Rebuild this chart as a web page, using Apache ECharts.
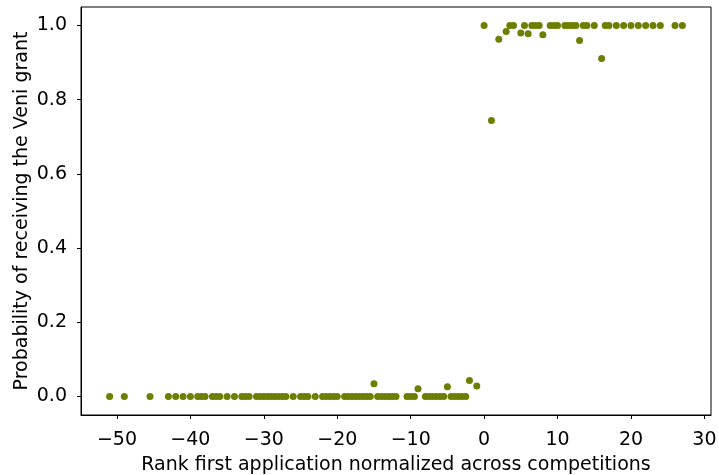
<!DOCTYPE html>
<html>
<head>
<meta charset="utf-8">
<script src="https://cdn.jsdelivr.net/npm/echarts@6/dist/echarts.min.js"></script>
<style>
  html, body { margin: 0; padding: 0; background: #fff; }
  #chart { width: 719px; height: 475px; }
</style>
</head>
<body>
<div id="chart"></div>
<script>
// Normalized rank of the first application (x) and estimated probability of a grant (y)
const rankLow = [
  -51, -49, -45.5, -43, -42, -41, -40,
  -39, -38.5, -38,
  -37, -36.5, -36,
  -35, -34,
  -33, -32.5, -32,
  -31, -30.5, -30, -29.5, -29, -28.5, -28, -27.5, -27,
  -26,
  -25, -24.5, -24,
  -23,
  -22, -21.5, -21, -20.5, -20,
  -19, -18.5, -18, -17.5, -17, -16.5, -16, -15.5,
  -14.5, -14, -13.5, -13, -12.5, -12,
  -10.5, -10, -9.5,
  -8, -7.5, -7, -6.5, -6, -5.5,
  -4.5, -4, -3.5, -3, -2.5,
  -15, -9, -5, -2, -1
];
const probLow = [
  0, 0, 0, 0, 0, 0, 0,
  0, 0, 0,
  0, 0, 0,
  0, 0,
  0, 0, 0,
  0, 0, 0, 0, 0, 0, 0, 0, 0,
  0,
  0, 0, 0,
  0,
  0, 0, 0, 0, 0,
  0, 0, 0, 0, 0, 0, 0, 0,
  0, 0, 0, 0, 0, 0,
  0, 0, 0,
  0, 0, 0, 0, 0, 0,
  0, 0, 0, 0, 0,
  0.034, 0.021, 0.026, 0.043, 0.028
];
const rankHigh = [
  0, 3.5, 4, 5.5, 6.5, 7, 7.5, 9, 9.5, 10, 11, 11.5, 12, 12.5, 13.5, 14,
  15, 16.5, 17, 18, 19, 20, 21, 22, 23, 24, 26, 27,
  1, 2, 3, 5, 6, 8, 13, 16
];
const probHigh = [
  1, 1, 1, 1, 1, 1, 1, 1, 1, 1, 1, 1, 1, 1, 1, 1,
  1, 1, 1, 1, 1, 1, 1, 1, 1, 1, 1, 1,
  0.744, 0.963, 0.984, 0.980, 0.978, 0.975, 0.960, 0.911
];
const xTicks = [-50, -40, -30, -20, -10, 0, 10, 20, 30];
const yTicks = [0, 0.2, 0.4, 0.6, 0.8, 1.0];

const points = rankLow.map((r, i) => [r, probLow[i]])
  .concat(rankHigh.map((r, i) => [r, probHigh[i]]));

const FONT = 'DejaVu Sans';
const SIZE = 19;
const chart = echarts.init(document.getElementById('chart'), null, { renderer: 'canvas' });

chart.setOption({
  animation: false,
  backgroundColor: '#ffffff',
  grid: {
    left: 81, right: 8, top: 7, bottom: 60,
    outerBoundsMode: 'none',
    containLabel: false,
    show: true, borderColor: '#000', borderWidth: 1
  },
  xAxis: {
    type: 'value',
    min: -54.9, max: 30.9,
    name: 'Rank first application normalized across competitions',
    nameLocation: 'middle',
    nameGap: 41,
    nameMoveOverlap: false,
    nameTextStyle: { fontFamily: FONT, fontSize: SIZE, color: '#000' },
    axisLine: { show: true, onZero: false, lineStyle: { color: '#000', width: 1 } },
    axisTick: { show: true, customValues: xTicks, length: 4, lineStyle: { color: '#000', width: 1 } },
    axisLabel: {
      customValues: xTicks, margin: 16,
      fontFamily: FONT, fontSize: SIZE, color: '#000',
      formatter: v => String(v).replace('-', '\u2212')
    },
    splitLine: { show: false }
  },
  yAxis: {
    type: 'value',
    min: -0.05, max: 1.05,
    name: 'Probability of receiving the Veni grant',
    nameLocation: 'middle',
    nameGap: 49,
    nameMoveOverlap: false,
    nameTextStyle: { fontFamily: FONT, fontSize: SIZE, color: '#000' },
    axisLine: { show: true, onZero: false, lineStyle: { color: '#000', width: 1 } },
    axisTick: { show: true, customValues: yTicks, length: 4, lineStyle: { color: '#000', width: 1 } },
    axisLabel: {
      customValues: yTicks, margin: 14,
      fontFamily: FONT, fontSize: SIZE, color: '#000',
      formatter: v => v.toFixed(1)
    },
    splitLine: { show: false }
  },
  series: [{
    type: 'scatter',
    data: points,
    symbol: 'circle',
    symbolSize: 7,
    itemStyle: { color: '#6e7e00', opacity: 1 }
  }]
});
</script>
</body>
</html>
